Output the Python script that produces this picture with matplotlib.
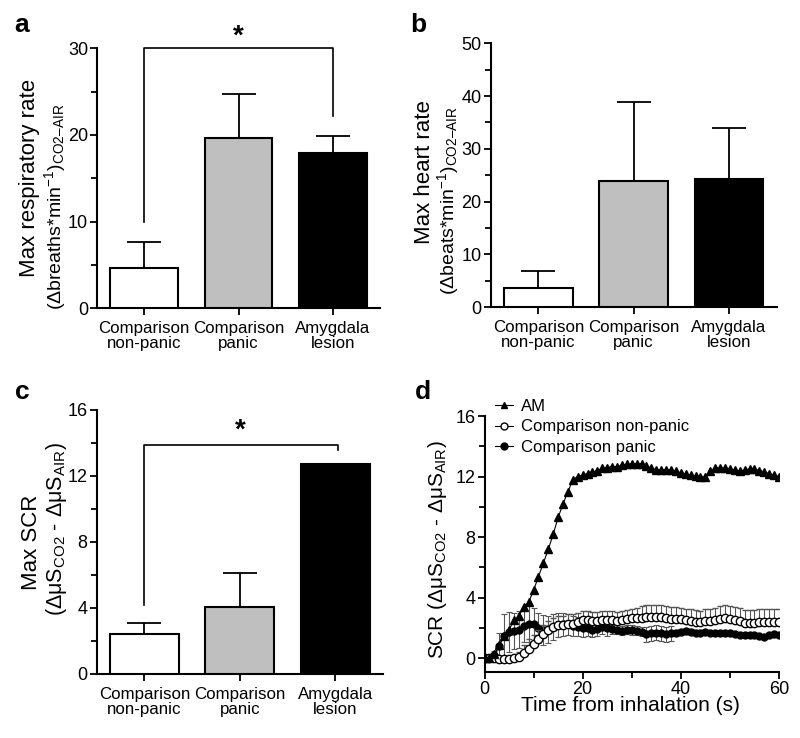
import numpy as np
import matplotlib
matplotlib.use("Agg")
import matplotlib.pyplot as plt
from matplotlib.ticker import MultipleLocator
from matplotlib.lines import Line2D

plt.rcParams['font.family'] = ['Liberation Sans', 'DejaVu Sans']
plt.rcParams['mathtext.fontset'] = 'custom'
plt.rcParams['mathtext.rm'] = 'Liberation Sans'
plt.rcParams['mathtext.it'] = 'Liberation Sans:italic'
plt.rcParams['mathtext.bf'] = 'Liberation Sans:bold'

# ---------------- data ----------------
categories = ["Comparison\nnon-panic", "Comparison\npanic", "Amygdala\nlesion"]
bar_colors = ["white", "#bfbfbf", "black"]

resp_mean = [4.7, 19.7, 17.9]
resp_err = [2.9, 5.0, 2.0]

heart_mean = [3.7, 23.9, 24.3]
heart_err = [3.2, 14.9, 9.6]

scr_mean = [2.42, 4.04, 12.71]
scr_err = [0.65, 2.10, 0.0]

time_s = list(range(0, 61))
am = [0.0, 0.05, 0.3, 0.9, 1.5, 1.9, 2.5, 2.8, 3.4, 3.7,
      4.5, 5.4, 6.3, 7.2, 8.2, 9.3, 10.2, 11.0, 11.8, 12.0,
      12.1, 12.2, 12.3, 12.4, 12.55, 12.6, 12.65, 12.65, 12.75, 12.8,
      12.85, 12.85, 12.85, 12.7, 12.55, 12.45, 12.45, 12.45, 12.45, 12.35,
      12.25, 12.15, 12.1, 12.05, 12.0, 11.95, 12.35, 12.55, 12.6, 12.55,
      12.5, 12.45, 12.35, 12.45, 12.5, 12.5, 12.4, 12.3, 12.2, 12.1, 12.0]
nonpanic = [0.0, 0.0, 0.0, -0.05, -0.05, -0.03, 0.0, 0.1, 0.35, 0.65,
            0.95, 1.3, 1.6, 1.85, 2.05, 2.2, 2.2, 2.3, 2.3, 2.4,
            2.5, 2.5, 2.45, 2.48, 2.5, 2.5, 2.5, 2.49, 2.53, 2.6,
            2.64, 2.64, 2.64, 2.7, 2.7, 2.7, 2.7, 2.64, 2.62, 2.58,
            2.58, 2.53, 2.49, 2.42, 2.4, 2.49, 2.49, 2.53, 2.62, 2.67,
            2.62, 2.53, 2.45, 2.36, 2.36, 2.36, 2.4, 2.4, 2.4, 2.4, 2.4]
nonpanic_err = [0.1, 0.1, 0.1, 0.1, 0.1, 0.1, 0.1, 0.3, 0.5, 0.6,
                0.6, 0.6, 0.6, 0.6, 0.6, 0.6, 0.6, 0.6, 0.6, 0.6,
                0.6, 0.6, 0.6, 0.6, 0.6, 0.6, 0.6, 0.6, 0.6, 0.6,
                0.65, 0.7, 0.8, 0.8, 0.8, 0.8, 0.8, 0.8, 0.8, 0.8,
                0.75, 0.75, 0.75, 0.75, 0.75, 0.75, 0.75, 0.8, 0.85, 0.85,
                0.85, 0.85, 0.85, 0.85, 0.85, 0.85, 0.85, 0.85, 0.85, 0.85, 0.85]
panic = [0.0, 0.02, 0.2, 0.8, 1.5, 1.75, 1.8, 1.9, 2.15, 2.3,
         2.25, 2.0, 1.88, 1.92, 2.08, 2.2, 2.25, 2.25, 2.15, 2.1,
         2.0, 1.98, 1.9, 1.95, 2.1, 1.98, 1.92, 1.88, 1.83, 1.9,
         1.87, 1.83, 1.76, 1.6, 1.65, 1.7, 1.65, 1.6, 1.65, 1.7,
         1.76, 1.8, 1.75, 1.68, 1.7, 1.72, 1.7, 1.65, 1.65, 1.7,
         1.65, 1.6, 1.55, 1.54, 1.54, 1.54, 1.48, 1.43, 1.52, 1.58, 1.55]
panic_err = [0.05, 0.1, 0.3, 0.9, 1.4, 1.3, 1.2, 1.2, 1.1, 1.2,
             1.1, 1.0, 1.0, 0.9, 0.85, 0.8, 0.75, 0.7, 0.65, 0.6,
             0.6, 0.5, 0.5, 0.5, 0.5, 0.5, 0.3, 0.3, 0.3, 0.3,
             0.3, 0.3, 0.3, 0.5, 0.5, 0.5, 0.5, 0.5, 0.5, 0.2,
             0.2, 0.2, 0.2, 0.15, 0.15, 0.15, 0.15, 0.15, 0.15, 0.15,
             0.15, 0.15, 0.15, 0.15, 0.15, 0.15, 0.15, 0.15, 0.15, 0.15, 0.15]

# ---------------- figure ----------------
W, H = 800, 738
fig = plt.figure(figsize=(W / 100, H / 100), dpi=100)


def axes_px(x0, x1, ytop, ybot):
    return fig.add_axes([x0 / W, 1 - ybot / H, (x1 - x0) / W, (ybot - ytop) / H])


def style_axes(ax):
    for s in ['top', 'right']:
        ax.spines[s].set_visible(False)
    for s in ['left', 'bottom']:
        ax.spines[s].set_linewidth(1.5)
    ax.tick_params(axis='both', which='major', length=5, width=1.3, pad=1.5,
                   labelsize=13, direction='out', colors='black')
    ax.tick_params(axis='both', which='minor', length=4, width=1.3, direction='out')


def bar_panel(ax, means, errs, ymax, major, minor):
    x = np.arange(len(categories))
    ax.bar(x, means, width=0.72, color=bar_colors, edgecolor='black',
           linewidth=1.5, zorder=3)
    ax.errorbar(x, means, yerr=[np.zeros(len(errs)), errs], fmt='none',
                ecolor='black', elinewidth=1.3, capsize=12, capthick=1.3, zorder=2)
    ax.set_xlim(-0.5, 2.5)
    ax.set_ylim(0, ymax)
    ax.yaxis.set_major_locator(MultipleLocator(major))
    ax.yaxis.set_minor_locator(MultipleLocator(minor))
    style_axes(ax)
    ax.set_xticks(x)
    ax.set_xticklabels(categories, linespacing=1.05)
    ax.tick_params(axis='x', which='major', length=5, pad=4, labelsize=12.2)


# panel a
axa = axes_px(97, 380, 48.3, 308.3)
bar_panel(axa, resp_mean, resp_err, 30, 10, 5)
axa.plot([0, 0, 2, 2], [10, 30, 30, 22.2], color='black', lw=1.2, clip_on=False, zorder=4)
axa.text(1, 29.8, '*', ha='center', va='bottom', fontsize=20, fontweight='bold')
axa.text(-0.237, 0.5, 'Max respiratory rate', transform=axa.transAxes, rotation=90,
         ha='center', va='center', fontsize=16)
axa.text(-0.147, 0.39, r'($\Delta$breaths*min$^{-1}$)$_{\mathrm{CO2–AIR}}$',
         transform=axa.transAxes, rotation=90, ha='center', va='center', fontsize=14)

# panel b
axb = axes_px(490.7, 776.7, 43.3, 307.3)
bar_panel(axb, heart_mean, heart_err, 50, 10, 5)
axb.text(-0.233, 0.514, 'Max heart rate', transform=axb.transAxes, rotation=90,
         ha='center', va='center', fontsize=16)
axb.text(-0.150, 0.403, r'($\Delta$beats*min$^{-1}$)$_{\mathrm{CO2–AIR}}$',
         transform=axb.transAxes, rotation=90, ha='center', va='center', fontsize=14)

# panel c
axc = axes_px(96.7, 383, 410, 674)
bar_panel(axc, scr_mean, scr_err, 16, 4, 2)
axc.plot([0, 0, 2.03, 2.03], [4.18, 13.86, 13.86, 13.58], color='black', lw=1.2,
         clip_on=False, zorder=4)
axc.text(1.0, 13.95, '*', ha='center', va='bottom', fontsize=20, fontweight='bold')
axc.text(-0.226, 0.5, 'Max SCR', transform=axc.transAxes, rotation=90,
         ha='center', va='center', fontsize=16)
axc.text(-0.14, 0.55, r'($\Delta$μS$_{\mathrm{CO2}}$ - $\Delta$μS$_{\mathrm{AIR}}$)',
         transform=axc.transAxes, rotation=90, ha='center', va='center', fontsize=15.5)

# panel d
axd = axes_px(484.5, 779, 416, 671.7)
axd.errorbar(time_s, panic, yerr=panic_err, fmt='-o', color='black', lw=0.8,
             ms=5, mfc='black', mec='black', ecolor='#555555', elinewidth=0.8,
             capsize=2.5, capthick=0.8, zorder=3)
axd.errorbar(time_s, nonpanic, yerr=[np.zeros(len(nonpanic_err)), nonpanic_err],
             fmt='-o', color='black', lw=0.8, ms=6, mfc='white', mec='black',
             mew=1.0, ecolor='#555555', elinewidth=0.8, capsize=2.5, capthick=0.8,
             zorder=4)
axd.plot(time_s, am, '-^', color='black', lw=0.8, ms=5.5, mfc='black', mec='black',
         zorder=5)
axd.set_xlim(0, 60)
axd.set_ylim(-0.88, 16)
axd.xaxis.set_major_locator(MultipleLocator(20))
axd.xaxis.set_minor_locator(MultipleLocator(10))
axd.yaxis.set_major_locator(MultipleLocator(4))
axd.yaxis.set_minor_locator(MultipleLocator(2))
style_axes(axd)
axd.text(-0.161, 0.476, r'SCR ($\Delta$μS$_{\mathrm{CO2}}$ - $\Delta$μS$_{\mathrm{AIR}}$)',
         transform=axd.transAxes, rotation=90, ha='center', va='center', fontsize=15)
axd.text(0.494, -0.134, 'Time from inhalation (s)', transform=axd.transAxes,
         ha='center', va='center', fontsize=15)

handles = [
    Line2D([], [], color='black', lw=0.8, marker='^', ms=5, mfc='black'),
    Line2D([], [], color='black', lw=0.8, marker='o', ms=5, mfc='white'),
    Line2D([], [], color='black', lw=0.8, marker='o', ms=5, mfc='black'),
]
axd.legend(handles, ['AM', 'Comparison non-panic', 'Comparison panic'],
           loc='upper left', bbox_to_anchor=(0.036, 1.068), frameon=False,
           fontsize=12, handlelength=1.1, handletextpad=0.45, labelspacing=0.35,
           borderpad=0, borderaxespad=0)

# panel letters
for lbl, x, y in [('a', 22, 25), ('b', 418, 25), ('c', 22, 392), ('d', 423, 392)]:
    fig.text(x / W, 1 - y / H, lbl, fontsize=19, fontweight='bold', ha='center', va='center')

fig.savefig('out.png', dpi=100)
